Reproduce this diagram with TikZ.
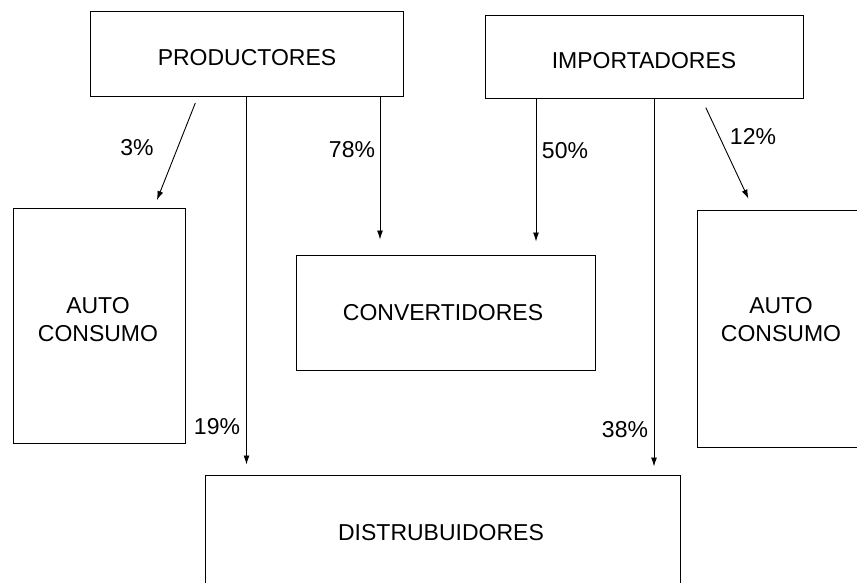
\documentclass[tikz,border=0pt]{standalone}
\usepackage{fontspec}
\setmainfont{Liberation Sans}
\usetikzlibrary{arrows.meta}
\begin{document}
\begin{tikzpicture}[x=1pt,y=-1pt,
  box/.style={draw, line width=1pt, inner sep=0pt},
  txt/.style={font=\fontsize{23}{28}\selectfont, align=center, inner sep=0pt},
  pct/.style={font=\fontsize{23}{28}\selectfont, inner sep=0pt},
  arr/.style={line width=0.9pt, -{Latex[length=9pt,width=6pt]}},
  ln/.style={line width=0.9pt}]
\useasboundingbox (0,0) rectangle (857,583);
\clip (0,0) rectangle (857,583);
\fill[white] (0,0) rectangle (857,583);
% boxes
\node[box, minimum width=313pt, minimum height=85pt] (prod) at (246.5,54.5) {};
\node[txt] (prodt) at (247,58) {PRODUCTORES};
\node[box, minimum width=318pt, minimum height=83pt] (imp) at (644,57.5) {};
\node[txt] (impt) at (644,61) {IMPORTADORES};
\node[box, minimum width=172pt, minimum height=235pt] (autoL) at (99,325.5) {};
\node[txt] (autoLt) at (98,320) {AUTO\\CONSUMO};
\node[box, minimum width=299pt, minimum height=115pt] (conv) at (445.5,312.5) {};
\node[txt] (convt) at (443,313) {CONVERTIDORES};
\node[box, minimum width=183pt, minimum height=237pt] (autoR) at (788.5,328.5) {};
\node[txt] (autoRt) at (781,320) {AUTO\\CONSUMO};
\node[box, minimum width=475pt, minimum height=125pt] (dist) at (442.5,537.5) {};
\node[txt] (distt) at (441,533) {DISTRUBUIDORES};
% connectors
\draw[arr, shorten <=6pt, shorten >=8pt] ([xshift=-49pt]prod.south) -- ([xshift=55pt]autoL.north);
\draw[arr, shorten >=10pt] (prod.south) -- (prod.south |- dist.north);
\draw[arr, shorten >=15pt] ([xshift=133.5pt]prod.south) -- ([xshift=133.5pt]prod.south |- conv.north);
\draw[arr, shorten >=13pt] ([xshift=-108pt]imp.south) -- ([xshift=-108pt]imp.south |- conv.north);
\draw[arr, shorten >=8pt] ([xshift=10pt]imp.south) -- ([xshift=10pt]imp.south |- dist.north);
\draw[arr, shorten <=9pt, shorten >=12pt] ([xshift=58pt]imp.south) -- ([xshift=-35pt]autoR.north);
% labels
\node[pct] (l3) at (137,148) {3\%};
\node[pct] (l78) at (352,150) {78\%};
\node[pct] (l50) at (565,151) {50\%};
\node[pct] (l12) at (753,137) {12\%};
\node[pct] (l19) at (217,427) {19\%};
\node[pct] (l38) at (625,430) {38\%};
\end{tikzpicture}
\end{document}
